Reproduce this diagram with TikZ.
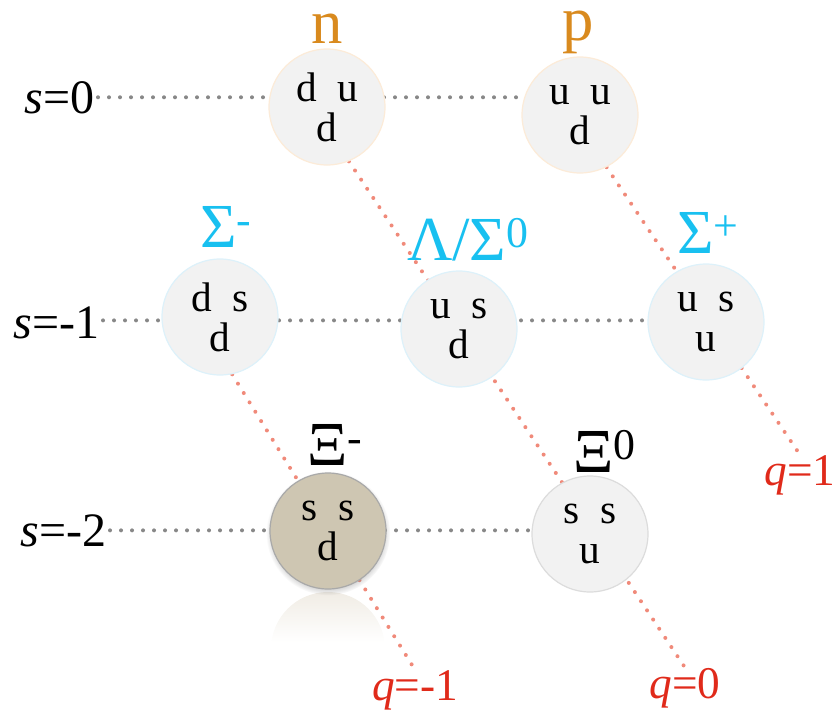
\documentclass[tikz,border=0pt]{standalone}
\usepackage{fontspec}
\setmainfont{Liberation Serif}
\newfontfamily\timesfont{Liberation Serif}
\usepackage{tikz}
\usetikzlibrary{positioning,shadows,backgrounds}

\definecolor{nucleoncol}{HTML}{D98A1E}
\definecolor{sigmacol}{HTML}{18C0F0}
\definecolor{qcol}{HTML}{E02A1A}
\definecolor{qdots}{HTML}{F08A7A}
\definecolor{sdots}{HTML}{888888}
\definecolor{ballfill}{HTML}{F2F2F2}
\definecolor{nucleonedge}{HTML}{FCEBD8}
\definecolor{sigmaedge}{HTML}{DDF1FA}
\definecolor{xizeroedge}{HTML}{DCDCDC}
\definecolor{ximfill}{HTML}{CEC6B2}
\definecolor{ximedge}{HTML}{A9A9A9}
\definecolor{reflcol}{HTML}{F0ECE4}

\begin{document}
\begin{tikzpicture}[
    x=0.75pt, y=-0.75pt,
    baryon/.style={circle, fill=ballfill, line width=0.9pt, minimum size=87pt,
                   inner sep=0pt, align=center, font=\timesfont\fontsize{31}{30}\selectfont},
    nucleon/.style={baryon, draw=nucleonedge},
    sigmaball/.style={baryon, draw=sigmaedge},
    xiball/.style={baryon, draw=xizeroedge},
    namelbl/.style={anchor=base, inner sep=0pt, font=\timesfont\fontsize{47}{50}\selectfont},
    axislbl/.style={anchor=base east, font=\timesfont\fontsize{36}{38}\selectfont, inner sep=0pt},
    qlbl/.style={anchor=base, text=qcol, font=\timesfont\fontsize{34}{36}\selectfont, inner sep=0pt},
    sline/.style={sdots, line width=3pt, line cap=round, dash pattern=on 0pt off 8.25pt},
    qline/.style={qdots, line width=3pt, line cap=round, dash pattern=on 0pt off 8.25pt}
  ]
    \useasboundingbox (0,0) rectangle (838,714);

    %--- Strangeness and charge labels ---
    \node[axislbl] (s0) at (95,113) {\textit{s}=0};
    \node[axislbl] (s1) at (100,338) {\textit{s}=-1};
    \node[axislbl] (s2) at (107,546) {\textit{s}=-2};
    \node[qlbl] (qm1) at (415,700) {\textit{q}=-1};
    \node[qlbl] (q0)  at (685,698) {\textit{q}=0};
    \node[qlbl] (q1)  at (800,485) {\textit{q}=1};

    %--- Baryons ---
    \node[nucleon]   (n)   at (327,107) {d\enspace u\\d};
    \node[nucleon]   (p)   at (580,115) {u\enspace u\\d};
    \node[sigmaball] (sm)  at (220,317) {d\enspace s\\d};
    \node[sigmaball] (lam) at (459,329) {u\enspace s\\d};
    \node[sigmaball] (sp)  at (706,322) {u\enspace s\\u};
    \node[baryon, draw=ximedge, fill=ximfill,
          circular drop shadow={shadow xshift=0pt, shadow yshift=-1.5pt,
                                shadow scale=1.07, opacity=.45}]
                     (xim) at (328,531) {s\enspace s\\d};
    \node[xiball]    (xi0) at (590,534) {s\enspace s\\u};

    %--- Names ---
    \node[namelbl, text=nucleoncol] (nname)   at (327,43)  {n};
    \node[namelbl, text=nucleoncol] (pname)   at (578,40)  {p};
    \node[namelbl, text=sigmacol]   (smname)  at (226,247) {Σ\textsuperscript{-}};
    \node[namelbl, text=sigmacol]   (lamname) at (468,260) {Λ/Σ\textsuperscript{0}};
    \node[namelbl, text=sigmacol]   (spname)  at (708,253) {Σ\textsuperscript{+}};
    \node[namelbl]                  (ximname) at (335,465) {Ξ\textsuperscript{-}};
    \node[namelbl]                  (xi0name) at (605,472) {Ξ\textsuperscript{0}};

    \begin{scope}[on background layer]
      %--- Reflection under Xi- ---
      \begin{scope}
        \clip (328,649) circle[radius=57];
        \shade[top color=reflcol, bottom color=white] (265,591) rectangle (395,642);
      \end{scope}

      %--- Strangeness lines ---
      \draw[sline] (s0.east) ++(3,0) coordinate (s0r) -- (s0r -| p.center);
      \draw[sline] (s1.east) ++(3,-2) coordinate (s1r) -- (s1r -| sp.center);
      \draw[sline] (s2.east) ++(3,0) coordinate (s2r) -- (s2r -| xi0.center);

      %--- Charge lines ---
      \draw[qline] (n.-68)  -- (q0.north);
      \draw[qline] (p.-63)  -- (q1.north);
      \draw[qline] (sm.-78) -- (qm1.north);
    \end{scope}
  \end{tikzpicture}
\end{document}
